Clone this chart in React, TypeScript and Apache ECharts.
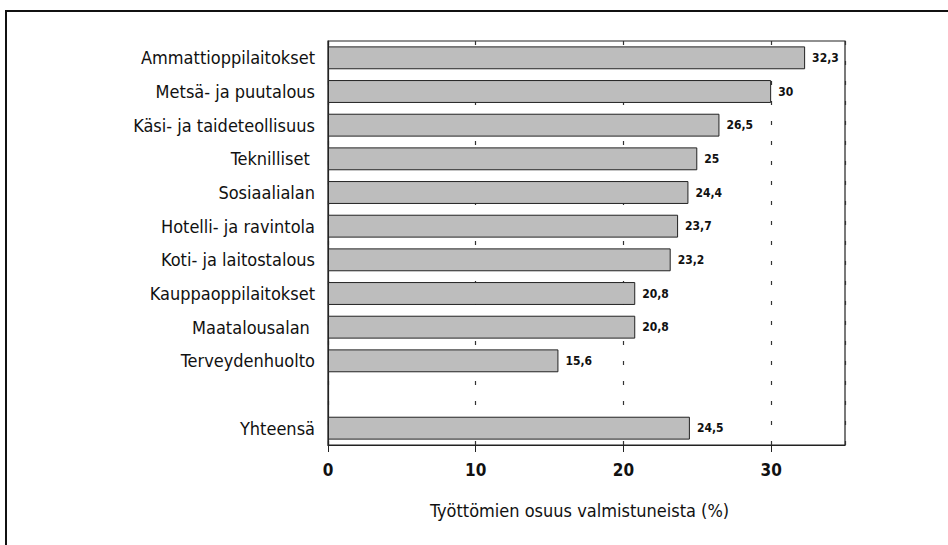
import React, { useEffect, useRef } from "react";
import * as echarts from "echarts";

const categories = [
  "Ammattioppilaitokset",
  "Metsä- ja puutalous",
  "Käsi- ja taideteollisuus",
  "Teknilliset ",
  "Sosiaalialan",
  "Hotelli- ja ravintola",
  "Koti- ja laitostalous",
  "Kauppaoppilaitokset",
  "Maatalousalan ",
  "Terveydenhuolto",
  "",
  "Yhteensä",
];
const values: (number | null)[] = [32.3, 30, 26.5, 25, 24.4, 23.7, 23.2, 20.8, 20.8, 15.6, null, 24.5];
const axisName = "Työttömien osuus valmistuneista (%)";

const FONT = "'DejaVu Sans Condensed', 'Liberation Sans Narrow', 'Arial Narrow', Roboto, sans-serif";

export default function App() {
  const ref = useRef<HTMLDivElement>(null);
  useEffect(() => {
    const chart = echarts.init(ref.current!, null, { renderer: "svg" });
    chart.setOption({
      animation: false,
      backgroundColor: "#fff",
      graphic: [
        {
          type: "polyline",
          shape: { points: [[6, 545], [6, 11], [948, 11]] },
          style: { fill: "none", stroke: "#111", lineWidth: 2 },
          silent: true,
        },
      ],
      grid: { left: 328, right: 103, top: 41, bottom: 100, show: true, borderColor: "#222", borderWidth: 1.2, backgroundColor: "transparent" },
      xAxis: {
        type: "value",
        min: 0,
        max: 35,
        interval: 10,
        name: axisName,
        nameLocation: "middle",
        nameGap: 56,
        nameTextStyle: { fontFamily: FONT, fontSize: 18, color: "#111", padding: [0, 14, 0, 0] },
        axisLine: { show: true, lineStyle: { color: "#222", width: 1.2 } },
        axisTick: { show: true, length: 7, lineStyle: { color: "#222" } },
        axisLabel: {
          fontFamily: FONT,
          fontSize: 17,
          fontWeight: "bold",
          color: "#111",
          margin: 16,
          showMaxLabel: false,
        },
        splitLine: { show: true, lineStyle: { color: "#333", type: [4, 16], width: 1.2 } },
      },
      yAxis: {
        type: "category",
        data: categories,
        inverse: true,
        axisLine: { show: true, lineStyle: { color: "#222", width: 1.2 } },
        axisTick: { show: false },
        axisLabel: { fontFamily: FONT, fontSize: 18, color: "#111", margin: 13 },
      },
      series: [
        {
          type: "bar",
          data: values,
          barCategoryGap: "32%",
          itemStyle: { color: "#bdbdbd", borderColor: "#222", borderWidth: 1 },
          label: {
            show: true,
            position: "right",
            distance: 7,
            fontFamily: FONT,
            fontSize: 12,
            fontWeight: "bold",
            color: "#111",
            formatter: (p: any) => String(p.value).replace(".", ","),
          },
        },
      ],
    });
    return () => chart.dispose();
  }, []);
  return <div ref={ref} style={{ position: "fixed", left: 0, top: 0, width: 948, height: 545 }} />;
}
